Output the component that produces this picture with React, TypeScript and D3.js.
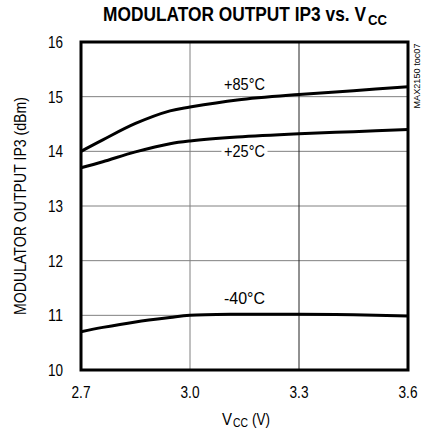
import React from "react";
import * as d3 from "d3";

const vcc = [2.7, 2.76, 2.85, 2.945, 3.0, 3.13, 3.3, 3.45, 3.6];
const t85 = [14.0, 14.21, 14.51, 14.74, 14.81, 14.94, 15.04, 15.11, 15.18];
const t25 = [13.7, 13.81, 13.99, 14.14, 14.19, 14.26, 14.32, 14.36, 14.4];
const tm40 = [10.7, 10.78, 10.88, 10.96, 11.0, 11.02, 11.02, 11.01, 10.99];
const xTicks = [2.7, 3.0, 3.3, 3.6];
const xTickLabels = ["2.7", "3.0", "3.3", "3.6"];
const yTicks = [10, 11, 12, 13, 14, 15, 16];
const seriesLabels = ["+85°C", "+25°C", "-40°C"];

const W = 421, H = 434;
const M = { left: 81, right: 408, top: 42, bottom: 370 };
const FONT = "'Liberation Sans', Arial, sans-serif";
const SQ = "spacingAndGlyphs";
const TS = 0.8; // horizontal condensing of the title

export default function App() {
  const x = d3.scaleLinear().domain([2.7, 3.6]).range([M.left, M.right]);
  const y = d3.scaleLinear().domain([10, 16]).range([M.bottom, M.top]);
  const line = d3
    .line<number>()
    .x((_, i) => x(vcc[i]))
    .y((d) => y(d))
    .curve(d3.curveCatmullRom.alpha(0.5));
  const series = [t85, t25, tm40];
  const labelPos = [
    { v: 3.15, val: 15.0, dy: -13 },
    { v: 3.15, val: 14.0, dy: 0 },
    { v: 3.15, val: 11.0, dy: -17 },
  ];
  return (
    <svg
      width={W}
      height={H}
      style={{ position: "absolute", left: 0, top: 0, background: "#fff" }}
      fontFamily={FONT}
    >
      <rect width={W} height={H} fill="#fff" />
      {/* title */}
      <text transform={`translate(103, 21) scale(${TS}, 1)`} fontWeight="bold" fontSize={21} fill="#000">
        <tspan x={0} textLength={263 / TS} lengthAdjust={SQ}>MODULATOR OUTPUT IP3 vs. V</tspan>
        <tspan x={265 / TS} dy={4} fontSize={15} textLength={19 / TS} lengthAdjust={SQ}>CC</tspan>
      </text>
      {/* grid */}
      {yTicks.slice(1, -1).map((t) => (
        <line key={"gy" + t} x1={M.left} x2={M.right} y1={y(t)} y2={y(t)} stroke="#808080" strokeWidth={1} />
      ))}
      {xTicks.slice(1, -1).map((t, i) => (
        <line key={"gx" + t} x1={x(t)} x2={x(t)} y1={M.top} y2={M.bottom} stroke={i === 0 ? "#808080" : "#222"} strokeWidth={1} />
      ))}
      {/* curves */}
      {series.map((s, i) => (
        <path key={"s" + i} d={line(s) || ""} fill="none" stroke="#000" strokeWidth={3} />
      ))}
      {/* labels */}
      {seriesLabels.map((lab, i) => {
        const p = labelPos[i];
        const cx = x(p.v);
        const cy = y(p.val) + p.dy;
        return (
          <g key={"l" + i}>
            {i === 1 && <rect x={cx - 23} y={cy - 8} width={46} height={16} fill="#fff" />}
            <text x={cx} y={cy} dy="0.36em" textAnchor="middle" fontSize={17} fill="#000" textLength={41} lengthAdjust={SQ}>
              {lab}
            </text>
          </g>
        );
      })}
      {/* frame */}
      <rect x={M.left} y={M.top} width={M.right - M.left} height={M.bottom - M.top} fill="none" stroke="#000" strokeWidth={3} />
      {/* y ticks */}
      {yTicks.map((t) => (
        <text key={"yt" + t} x={63} y={y(t)} dy="0.36em" textAnchor="end" fontSize={17} fill="#000" textLength={15} lengthAdjust={SQ}>
          {t}
        </text>
      ))}
      {/* x ticks */}
      {xTicks.map((t, i) => (
        <text key={"xt" + t} x={x(t)} y={392} dy="0.36em" textAnchor="middle" fontSize={17} fill="#000" textLength={19} lengthAdjust={SQ}>
          {xTickLabels[i]}
        </text>
      ))}
      {/* axis titles */}
      <text y={425} fontSize={17} fill="#000">
        <tspan x={222} textLength={10} lengthAdjust={SQ}>V</tspan>
        <tspan x={233} dy={2} fontSize={13} textLength={15} lengthAdjust={SQ}>CC</tspan>
        <tspan x={252} dy={-2} textLength={18} lengthAdjust={SQ}>(V)</tspan>
      </text>
      <text
        transform={`translate(26, ${(M.top + M.bottom) / 2}) rotate(-90)`}
        textAnchor="middle"
        fontSize={17}
        fill="#000"
        textLength={218}
        lengthAdjust={SQ}
      >
        MODULATOR OUTPUT IP3 (dBm)
      </text>
      <text
        transform={`translate(420, 76) rotate(-90)`}
        textAnchor="middle"
        fontSize={9}
        fill="#000"
        textLength={65}
        lengthAdjust={SQ}
      >
        MAX2150 toc07
      </text>
    </svg>
  );
}
